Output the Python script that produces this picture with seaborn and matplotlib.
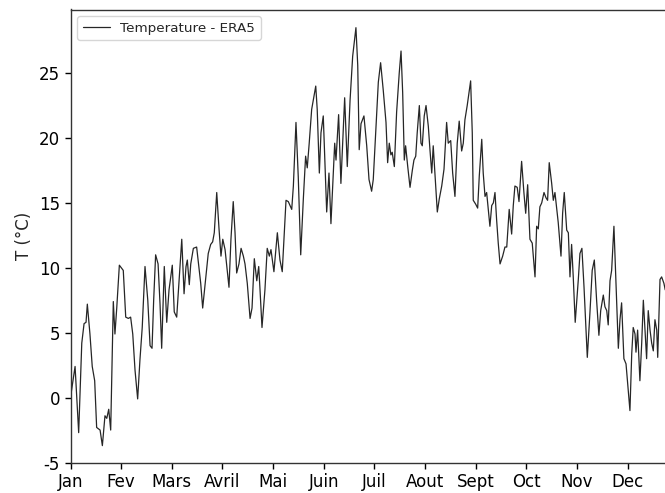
import matplotlib
matplotlib.use("Agg")
import matplotlib.pyplot as plt
import seaborn as sns
import pandas as pd

# Daily 2 m temperature (ERA5), time in days since 1 January
day = [
    0, 2.8, 5.0, 6.9, 8.3, 9.5, 10.3, 11.9, 13.3, 14.8, 16.0, 18.1, 19.5, 21.1,
    22.2, 23.4, 24.6, 26.2, 27.2, 28.3, 29.9, 32.3, 33.8, 35.4, 36.8, 38.1, 39.5,
    41.1, 42.5, 43.9, 45.6, 47.3, 48.7, 49.9, 50.9, 52.1, 53.6, 54.8, 55.8, 57.4,
    58.9, 60.3, 62.3, 63.5, 65.0, 68.1, 69.5, 70.7, 71.5, 72.7, 73.6, 75.2, 77.2,
    79.7, 80.9, 84.3, 85.8, 87.0, 88.0, 89.5, 90.9, 92.1, 93.2, 94.6, 97.0, 98.2,
    99.6, 100.7, 101.7, 103.1, 104.4, 105.8, 106.8, 108.2, 109.9, 111.1, 112.5,
    114.0, 115.2, 116.0, 117.2, 119.0, 120.4, 121.7, 122.7, 124.5, 126.6, 128.2,
    129.6, 131.9, 133.3, 135.4, 136.4, 138.0, 139.4, 140.9, 142.5, 143.9, 144.9,
    146.1, 147.6, 150.1, 151.0, 152.3, 153.3, 154.7, 156.8, 158.2, 159.4, 160.5,
    161.7, 162.5, 164.1, 165.5, 167.0, 167.8, 169.4, 171.1, 172.7, 174.7, 175.8,
    176.7, 177.8, 179.6, 181.3, 182.7, 184.3, 185.3, 186.8, 188.4, 189.8, 191.4,
    193.1, 194.1, 195.1, 196.1, 196.9, 198.2, 199.6, 201.2, 202.3, 203.3, 204.3,
    205.1, 206.4, 207.8, 209.2, 210.2, 211.3, 212.2, 213.5, 214.5, 215.3, 216.5,
    217.6, 219.0, 220.0, 221.1, 222.0, 223.1, 224.5, 225.7, 227.2, 228.6, 230.2,
    231.2, 232.7, 233.9, 235.3, 236.7, 237.9, 239.4, 240.4, 241.4, 242.8, 244.9,
    245.9, 246.5, 248.0, 249.2, 250.2, 251.7, 252.6, 253.7, 254.7, 255.7, 256.7,
    257.8, 258.8, 259.8, 260.8, 261.8, 262.9, 264.5, 265.9, 267.0, 268.5, 270.0,
    271.0, 272.0, 273.4, 274.5, 276.1, 277.5, 278.6, 279.8, 281.2, 282.6, 284.3,
    285.3, 286.3, 287.3, 288.4, 289.8, 291.0, 292.0, 293.0, 294.5, 295.5, 296.5,
    297.6, 298.5, 300.2, 301.2, 302.2, 303.7, 304.7, 305.7, 306.7, 307.7, 308.9,
    310.8, 311.8, 313.0, 314.3, 316.3, 317.9, 319.3, 320.6, 322.0, 323.4, 324.5,
    326.1, 327.1, 328.2, 329.1, 330.2, 331.2, 332.6, 333.8, 335.3, 336.3, 337.3,
    338.7, 340.0, 341.0, 342.4, 343.5, 344.4, 345.5, 346.1, 347.1, 348.5, 349.6,
    350.6, 351.6, 352.6, 353.6, 354.7, 355.7, 356.7, 357.7, 358.8, 359.4, 360.8,
    361.8, 363.2, 364.0,
]
temp_c = [
    0.0, 2.4, -2.7, 4.2, 5.7, 5.8, 7.2, 4.9, 2.4, 1.3, -2.3, -2.5, -3.7, -1.4,
    -1.6, -0.9, -2.5, 7.4, 4.9, 6.9, 10.2, 9.8, 6.2, 6.1, 6.2, 4.9, 2.1,
    -0.1, 2.9, 5.4, 10.1, 7.5, 4.0, 3.8, 7.5, 11.0, 10.3, 7.2, 3.8, 10.1,
    5.8, 8.3, 10.2, 6.6, 6.2, 12.2, 8.0, 10.1, 10.6, 8.7, 10.3, 11.5, 11.6,
    8.8, 6.9, 11.1, 11.8, 12.0, 12.7, 15.8, 13.0, 10.9, 12.2, 11.4, 8.5, 12.2,
    15.1, 12.7, 9.6, 10.3, 11.5, 10.9, 10.3, 8.8, 6.1, 6.9, 10.7,
    9.0, 10.1, 8.3, 5.4, 8.3, 11.5, 10.9, 11.4, 9.7, 12.7, 10.6,
    9.7, 15.2, 15.1, 14.5, 16.3, 21.2, 17.0, 11.0, 15.3, 18.6, 17.7,
    19.6, 22.2, 24.0, 22.2, 17.3, 20.4, 21.7, 14.3, 17.3, 13.4, 16.3,
    19.6, 18.3, 21.8, 16.5, 20.9, 23.1, 17.8, 22.9, 26.3, 28.5, 25.6,
    19.1, 21.1, 21.7, 19.4, 16.8, 15.9, 16.8, 20.4, 24.3, 25.8, 23.7,
    21.2, 18.1, 19.6, 18.7, 18.9, 17.8, 22.0, 25.0, 26.7, 23.5, 18.3,
    19.4, 17.8, 16.2, 17.5, 18.3, 18.6, 20.4, 22.5, 19.6, 19.4, 21.7,
    22.5, 20.9, 19.1, 17.3, 19.4, 17.1, 14.3, 15.3, 16.3, 17.6, 21.2,
    19.6, 19.8, 17.3, 15.5, 19.6, 21.3, 19.0, 19.6, 21.4, 22.5, 24.4,
    20.4, 15.2, 14.9, 14.6, 17.1, 19.9, 17.3, 15.5, 15.8, 14.5, 13.2,
    14.8, 15.0, 15.8, 13.7, 11.9, 10.3, 10.9, 11.6, 11.6, 14.5, 12.6,
    14.8, 16.3, 16.2, 15.1, 18.2, 15.8, 14.2, 16.4, 12.2, 11.9, 9.3,
    13.2, 13.0, 14.7, 15.0, 15.8, 15.4, 15.2, 18.1, 16.5, 15.2, 15.8,
    14.5, 13.5, 10.9, 14.2, 15.8, 12.9, 12.7, 9.3, 11.8, 9.3, 5.8,
    9.1, 11.1, 11.5, 8.5, 3.1, 6.5, 9.8, 10.6, 7.5, 4.8, 6.7,
    7.9, 7.0, 6.7, 5.6, 9.0, 9.8, 13.2, 9.1, 3.8, 6.0, 7.3,
    3.0, 2.6, 1.1, -1.0, 3.4, 5.4, 4.9, 3.5, 5.2, 1.3, 4.2,
    7.5, 5.2, 3.0, 6.7, 5.2, 4.2, 3.6, 6.0, 5.2, 3.1, 9.1,
    9.3, 8.8, 8.3,
]
month_labels = ["Jan", "Fev", "Mars", "Avril", "Mai", "Juin",
                "Juil", "Aout", "Sept", "Oct", "Nov", "Dec"]
y_ticks = [-5, 0, 5, 10, 15, 20, 25]

sns.set_style("ticks")
plt.rcParams["font.family"] = ["DejaVu Sans"]
plt.rcParams["axes.unicode_minus"] = False

df = pd.DataFrame({"day": day, "T": temp_c})

fig = plt.figure(figsize=(6.65, 4.93), dpi=100)
ax = fig.add_axes([70.5 / 665, 1 - 462.5 / 493, (668.5 - 70.5) / 665, (462.5 - 9.5) / 493])

sns.lineplot(data=df, x="day", y="T", ax=ax, color="#262626", linewidth=0.9,
             label="Temperature - ERA5")

ax.set_xlim(0, 366.0)
ax.set_ylim(-5, 29.9)
ax.set_xticks([31 * i for i in range(len(month_labels))])
ax.set_xticklabels(month_labels)
ax.set_yticks(y_ticks)
ax.set_xlabel("")
ax.set_ylabel("T (°C)", fontsize=12)
ax.tick_params(axis="both", labelsize=12, length=4, width=1, colors="black",
               direction="out")
for s in ax.spines.values():
    s.set_color("#333333")
    s.set_linewidth(1.0)

ax.legend(loc="upper left", fontsize=9.7, frameon=True)

fig.savefig("out.png", dpi=100)
